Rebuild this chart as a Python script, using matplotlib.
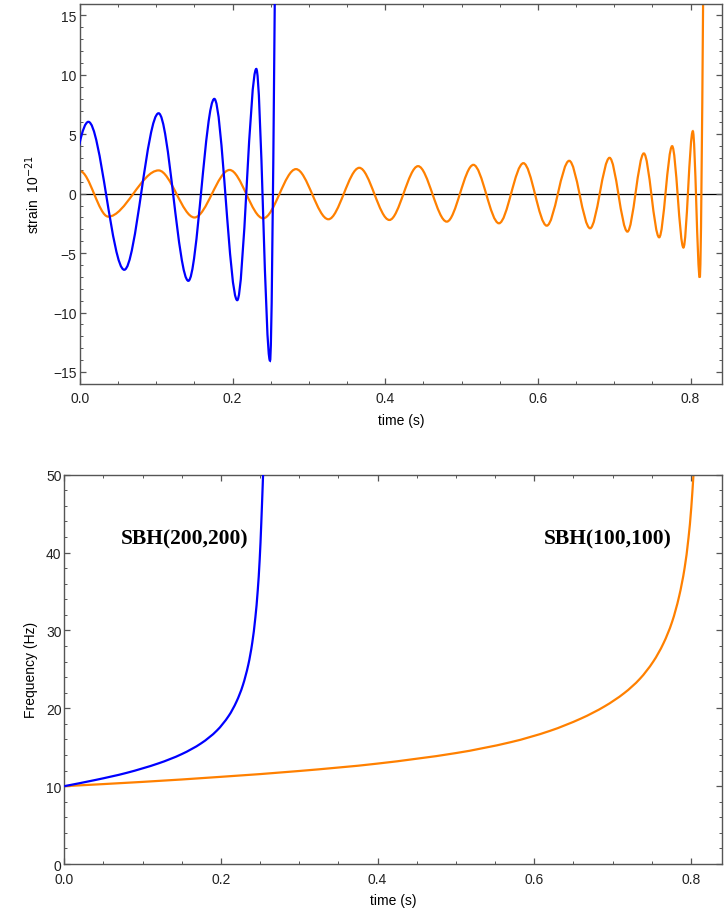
# coding: utf-8

"""
Chirp waveforms and frequency evolution of two binary black holes
"""

import matplotlib
matplotlib.use("Agg")
import matplotlib.pyplot as plt
from matplotlib.path import Path
from matplotlib.patches import PathPatch
from matplotlib.ticker import MultipleLocator

# Strain waveforms: successive extrema (time s, strain 1e-21)
blue_ext_t = [-0.036, 0.011, 0.058, 0.103, 0.142, 0.176, 0.206, 0.231, 0.249, 0.2605]
blue_ext_h = [-5.8, 6.05, -6.4, 6.77, -7.33, 7.98, -8.96, 10.5, -14.05, 40.0]

orange_ext_t = [0.0, 0.037, 0.103, 0.150, 0.196, 0.240, 0.283, 0.3255, 0.366,
                0.4054, 0.443, 0.4806, 0.5155, 0.549, 0.581, 0.6116, 0.641,
                0.6684, 0.6939, 0.7173, 0.7388, 0.7589, 0.7759, 0.7907, 0.803,
                0.8121, 0.8209]
orange_ext_h = [1.9, -1.93, 1.96, -2.0, 2.0, -2.07, 2.07, -2.15, 2.18,
                -2.21, 2.32, -2.35, 2.43, -2.49, 2.57, -2.69, 2.77,
                -2.91, 3.02, -3.19, 3.39, -3.67, 4.0, -4.53, 5.26,
                -7.05, 40.0]

# Frequency (Hz) vs time (s)
blue_f_t = [0.0, 0.04, 0.08, 0.12, 0.15, 0.175, 0.195, 0.21, 0.22, 0.228,
            0.235, 0.24, 0.244, 0.247, 0.2495, 0.2515, 0.2538]
blue_f = [10.0, 10.8, 11.72, 12.92, 14.12, 15.52, 17.16, 19.04, 20.89, 22.97,
          25.63, 28.43, 31.71, 35.16, 39.16, 43.76, 50.0]

orange_f_t = [0.0, 0.1, 0.2, 0.3, 0.4, 0.5, 0.57, 0.62, 0.66, 0.69, 0.715,
              0.735, 0.752, 0.765, 0.776, 0.785, 0.792, 0.797, 0.8005, 0.8033]
orange_f = [10.0, 10.55, 11.2, 11.95, 12.9, 14.25, 15.65, 17.1, 18.7, 20.26, 21.96,
            23.8, 26.01, 28.35, 31.1, 34.39, 38.03, 41.93, 45.78, 50.0]

labels = ["SBH(200,200)", "SBH(100,100)"]
label_t = [0.154, 0.694]
label_f = [41.8, 41.8]

BLUE = "#0000ff"
ORANGE = "#ff8000"

plt.rcParams["font.family"] = ["Liberation Sans", "DejaVu Sans"]
plt.rcParams["font.size"] = 10


def wave_path(ts, hs):
	# smooth half-waves between extrema, flat tangent at each extremum
	verts = [(ts[0], hs[0])]
	codes = [Path.MOVETO]
	for i in range(1, len(ts)):
		d = ts[i] - ts[i - 1]
		verts += [(ts[i - 1] + d / 3, hs[i - 1]), (ts[i] - d / 3, hs[i]), (ts[i], hs[i])]
		codes += [Path.CURVE4] * 3
	return Path(verts, codes)


def smooth_path(ts, ys):
	# cubic Hermite through the read points, slopes from neighbours
	n = len(ts)
	m = []
	for i in range(n):
		a = max(i - 1, 0)
		b = min(i + 1, n - 1)
		m.append((ys[b] - ys[a]) / (ts[b] - ts[a]))
	verts = [(ts[0], ys[0])]
	codes = [Path.MOVETO]
	for i in range(1, n):
		d = ts[i] - ts[i - 1]
		verts += [(ts[i - 1] + d / 3, ys[i - 1] + m[i - 1] * d / 3),
				  (ts[i] - d / 3, ys[i] - m[i] * d / 3), (ts[i], ys[i])]
		codes += [Path.CURVE4] * 3
	return Path(verts, codes)


def style(ax):
	for s in ax.spines.values():
		s.set_color("#555555")
		s.set_linewidth(1.0)
	ax.tick_params(which="both", direction="in", top=True, right=True,
				   colors="#555555", labelcolor="#222222")
	ax.tick_params(which="major", length=4, width=0.9)
	ax.tick_params(which="minor", length=2.2, width=0.7)


fig = plt.figure(figsize=(7.24, 9.12), dpi=100)

# Top: strain
ax1 = fig.add_axes([0.1105, 0.578, 0.8865, 0.417])
ax1.axhline(0, color="black", lw=0.9, zorder=1)
ax1.add_patch(PathPatch(wave_path(blue_ext_t, blue_ext_h), fill=False,
						edgecolor=BLUE, lw=1.6, zorder=3))
ax1.add_patch(PathPatch(wave_path(orange_ext_t, orange_ext_h), fill=False,
						edgecolor=ORANGE, lw=1.6, zorder=2))
ax1.set_xlim(0, 0.841)
ax1.set_ylim(-16, 16)
ax1.xaxis.set_major_locator(MultipleLocator(0.2))
ax1.xaxis.set_minor_locator(MultipleLocator(0.05))
ax1.yaxis.set_major_locator(MultipleLocator(5))
ax1.yaxis.set_minor_locator(MultipleLocator(1))
style(ax1)
ax1.tick_params(axis="x", pad=5)
ax1.tick_params(axis="y", pad=2.5)
ax1.set_xlabel("time (s)", labelpad=6)
ax1.set_ylabel("strain  10$^{-21}$", labelpad=8)

# Bottom: frequency
ax2 = fig.add_axes([0.0888, 0.0515, 0.9082, 0.4269])
ax2.add_patch(PathPatch(smooth_path(blue_f_t, blue_f), fill=False,
						edgecolor=BLUE, lw=1.6, zorder=3))
ax2.add_patch(PathPatch(smooth_path(orange_f_t, orange_f), fill=False,
						edgecolor=ORANGE, lw=1.6, zorder=2))
for lab, x, y in zip(labels, label_t, label_f):
	ax2.text(x, y, lab, ha="center", va="center", fontsize=15.5,
			 fontweight="bold", family=["Liberation Serif", "DejaVu Serif"])
ax2.set_xlim(0, 0.8395)
ax2.set_ylim(0, 50)
ax2.xaxis.set_major_locator(MultipleLocator(0.2))
ax2.xaxis.set_minor_locator(MultipleLocator(0.05))
ax2.yaxis.set_major_locator(MultipleLocator(10))
ax2.yaxis.set_minor_locator(MultipleLocator(2))
style(ax2)
ax2.tick_params(axis="x", pad=5.5)
ax2.tick_params(axis="y", pad=2)
ax2.set_xlabel("time (s)", labelpad=5)
ax2.set_ylabel("Frequency (Hz)", labelpad=6)

fig.savefig("out.png", dpi=100)
